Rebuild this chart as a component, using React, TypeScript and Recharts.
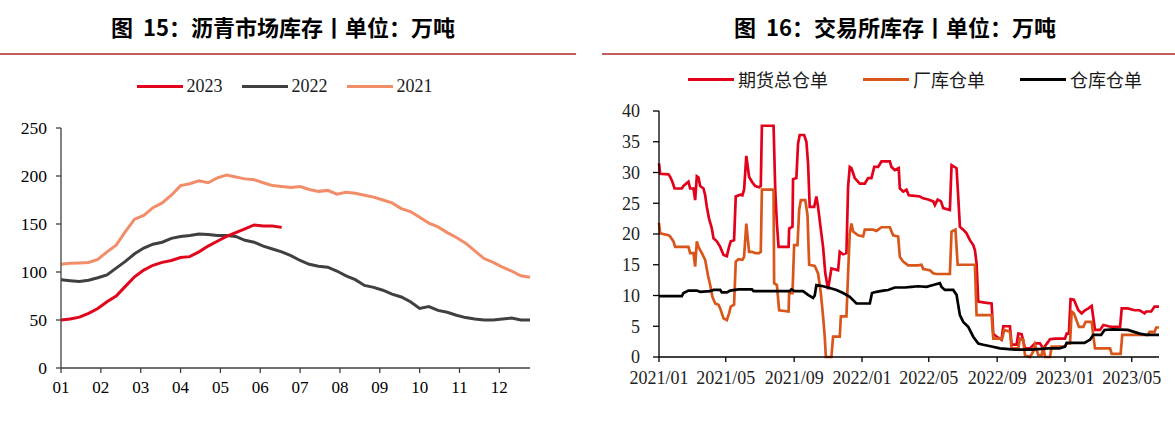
import React from "react";
import { LineChart, Line, XAxis, YAxis } from "recharts";

// ---- 图15 沥青市场库存 (weekly, 万吨) ----
const months = ["01", "02", "03", "04", "05", "06", "07", "08", "09", "10", "11", "12"];
const marketTicks = [0, 50, 100, 150, 200, 250];

const inv2023 = [50, 51, 53, 57, 62, 69, 75, 85, 95, 102, 107, 110, 112, 115, 116, 121, 127, 132, 137, 141, 145, 149, 148, 148, 146.5];
const inv2022 = [92, 91, 90, 91.5, 94, 97, 104, 111, 119, 125, 129, 131, 135, 137, 138, 139.5, 139, 138, 138, 137, 133, 131, 127, 124, 121, 117, 112, 108, 106, 105, 101, 96, 92, 86, 84, 81, 77, 74, 69, 62, 64, 60, 58, 55, 52.5, 51, 50, 50, 51, 52, 50, 50];
const inv2021 = [108, 109, 109.5, 110, 113, 121, 128, 142, 155, 159, 167, 172, 180, 190, 192, 195, 193, 198, 201, 199, 197, 196, 193, 190, 189, 188, 189, 186, 184, 185, 181, 183, 182, 180, 178, 175, 172, 166, 163, 157, 151, 147, 141, 136, 130, 122, 114, 110, 105, 101, 96, 94.5];

const marketSeries = [
  { key: "y2021", name: "2021", color: "#F28D69", values: inv2021 },
  { key: "y2022", name: "2022", color: "#404040", values: inv2022 },
  { key: "y2023", name: "2023", color: "#E0061C", values: inv2023 },
];

// ---- 图16 交易所库存 (万吨) ----
const exchangeTickLabels = ["2021/01", "2021/05", "2021/09", "2022/01", "2022/05", "2022/09", "2023/01", "2023/05"];
const exchangeTicks = [0, 5, 10, 15, 20, 25, 30, 35, 40];
const exchangeStart = "2021-01-01";
const exchangeEnd = "2023-06-19";

const futuresTotal: [string, number][] = [
  ["2021-01-01", 31.5], ["2021-01-03", 29.8], ["2021-01-18", 29.7], ["2021-01-21", 29.3], ["2021-01-25", 28.5], ["2021-01-29", 27.4],
  ["2021-02-11", 27.4], ["2021-02-14", 27.8], ["2021-02-23", 28.5], ["2021-02-26", 27.4], ["2021-03-04", 27.4], ["2021-03-07", 25.5],
  ["2021-03-10", 29.4], ["2021-03-13", 29.2], ["2021-03-16", 27.8], ["2021-03-22", 27.4], ["2021-03-25", 26.3], ["2021-03-28", 24.4],
  ["2021-04-01", 22.5], ["2021-04-06", 20.9], ["2021-04-09", 19.3], ["2021-04-15", 18.8], ["2021-04-21", 17.9], ["2021-04-27", 16.6],
  ["2021-05-03", 16.4], ["2021-05-07", 17.9], ["2021-05-10", 18.8], ["2021-05-16", 19.0], ["2021-05-19", 26.1], ["2021-05-27", 26.4],
  ["2021-05-31", 26.3], ["2021-06-03", 27.2], ["2021-06-07", 32.7], ["2021-06-12", 29.3], ["2021-06-17", 28.5], ["2021-06-23", 27.8],
  ["2021-06-30", 27.6], ["2021-07-03", 27.8], ["2021-07-05", 37.6], ["2021-07-26", 37.6], ["2021-07-29", 27.2], ["2021-08-01", 21.7],
  ["2021-08-04", 17.9], ["2021-08-22", 17.9], ["2021-08-23", 20.9], ["2021-08-29", 21.2], ["2021-08-30", 28.9], ["2021-09-05", 29.1],
  ["2021-09-08", 34.7], ["2021-09-11", 36.1], ["2021-09-19", 36.1], ["2021-09-23", 35.0], ["2021-09-26", 31.5], ["2021-09-29", 24.4],
  ["2021-10-07", 24.4], ["2021-10-11", 26.1], ["2021-10-14", 24.4], ["2021-10-19", 20.7], ["2021-10-23", 17.9], ["2021-10-27", 13.6],
  ["2021-11-01", 11.0], ["2021-11-07", 14.4], ["2021-11-19", 14.1], ["2021-11-22", 17.1], ["2021-11-28", 16.7], ["2021-12-04", 16.9],
  ["2021-12-07", 27.7], ["2021-12-10", 30.9], ["2021-12-13", 30.7], ["2021-12-19", 29.1], ["2021-12-28", 28.2], ["2022-01-06", 28.2],
  ["2022-01-12", 29.1], ["2022-01-18", 29.1], ["2022-01-23", 30.9], ["2022-01-30", 30.9], ["2022-02-05", 31.8], ["2022-02-20", 31.8],
  ["2022-02-23", 30.9], ["2022-03-01", 30.4], ["2022-03-08", 30.7], ["2022-03-10", 27.4], ["2022-03-16", 26.9], ["2022-03-22", 27.2],
  ["2022-03-26", 26.3], ["2022-04-06", 26.2], ["2022-04-15", 26.1], ["2022-04-21", 25.8], ["2022-04-30", 25.6], ["2022-05-09", 25.3],
  ["2022-05-12", 24.7], ["2022-05-17", 25.6], ["2022-05-23", 25.3], ["2022-05-27", 24.2], ["2022-06-08", 23.9], ["2022-06-11", 31.2],
  ["2022-06-20", 30.7], ["2022-06-23", 26.1], ["2022-06-26", 21.2], ["2022-07-02", 20.7], ["2022-07-08", 20.1], ["2022-07-14", 19.0],
  ["2022-07-20", 18.2], ["2022-07-23", 17.4], ["2022-07-26", 15.2], ["2022-07-29", 9.0], ["2022-08-13", 8.8], ["2022-08-22", 8.7],
  ["2022-08-25", 3.8], ["2022-08-31", 3.3], ["2022-09-09", 2.8], ["2022-09-12", 5.0], ["2022-09-24", 5.0], ["2022-09-27", 2.0],
  ["2022-10-06", 2.0], ["2022-10-09", 3.8], ["2022-10-15", 3.7], ["2022-10-21", 1.4], ["2022-10-30", 1.4], ["2022-11-08", 2.2],
  ["2022-11-17", 2.2], ["2022-11-23", 1.4], ["2022-12-02", 2.5], ["2022-12-05", 2.9], ["2022-12-14", 3.0], ["2023-01-01", 3.0],
  ["2023-01-04", 3.8], ["2023-01-08", 3.8], ["2023-01-11", 9.4], ["2023-01-17", 9.3], ["2023-01-25", 7.6], ["2023-01-31", 7.1],
  ["2023-02-06", 7.6], ["2023-02-12", 7.9], ["2023-02-18", 8.3], ["2023-02-21", 6.3], ["2023-02-24", 4.4], ["2023-03-05", 4.4],
  ["2023-03-11", 5.2], ["2023-03-20", 5.0], ["2023-03-26", 4.9], ["2023-04-10", 4.9], ["2023-04-13", 7.9], ["2023-04-24", 7.9],
  ["2023-05-06", 7.6], ["2023-05-15", 7.6], ["2023-05-24", 7.1], ["2023-05-27", 7.4], ["2023-06-05", 7.4], ["2023-06-11", 8.2],
  ["2023-06-19", 8.2],
];

const factoryReceipts: [string, number][] = [
  ["2021-01-01", 21.8], ["2021-01-03", 20.1], ["2021-01-18", 19.8], ["2021-01-21", 19.6], ["2021-01-27", 18.8], ["2021-01-30", 17.9],
  ["2021-02-23", 17.9], ["2021-02-26", 16.9], ["2021-03-04", 16.9], ["2021-03-07", 14.7], ["2021-03-10", 18.8], ["2021-03-13", 17.9],
  ["2021-03-19", 16.9], ["2021-03-25", 15.8], ["2021-03-30", 13.3], ["2021-04-03", 11.7], ["2021-04-07", 9.8], ["2021-04-12", 8.7],
  ["2021-04-18", 8.5], ["2021-04-21", 7.9], ["2021-04-27", 6.3], ["2021-05-03", 6.0], ["2021-05-07", 7.1], ["2021-05-10", 8.2],
  ["2021-05-16", 8.5], ["2021-05-19", 15.5], ["2021-05-24", 15.9], ["2021-05-31", 15.8], ["2021-06-03", 16.3], ["2021-06-07", 21.7],
  ["2021-06-12", 17.1], ["2021-06-17", 17.1], ["2021-06-23", 16.9], ["2021-06-30", 16.9], ["2021-07-03", 17.1], ["2021-07-05", 27.2],
  ["2021-07-26", 27.2], ["2021-07-27", 12.0], ["2021-08-01", 11.7], ["2021-08-05", 7.6], ["2021-08-22", 7.4], ["2021-08-23", 10.4],
  ["2021-08-29", 10.4], ["2021-09-01", 18.2], ["2021-09-07", 18.2], ["2021-09-10", 23.9], ["2021-09-13", 25.5], ["2021-09-21", 25.5],
  ["2021-09-25", 23.1], ["2021-09-28", 15.0], ["2021-10-08", 14.8], ["2021-10-14", 13.6], ["2021-10-19", 10.4], ["2021-10-23", 6.6],
  ["2021-10-26", 3.3], ["2021-10-28", 0], ["2021-11-07", 0], ["2021-11-10", 3.3], ["2021-11-22", 3.3], ["2021-11-24", 6.6],
  ["2021-12-04", 6.6], ["2021-12-07", 13.6], ["2021-12-10", 20.1], ["2021-12-13", 21.7], ["2021-12-16", 20.4], ["2021-12-25", 19.8],
  ["2022-01-03", 19.6], ["2022-01-06", 20.7], ["2022-01-21", 20.7], ["2022-01-27", 20.5], ["2022-02-05", 21.1], ["2022-02-20", 21.1],
  ["2022-02-26", 19.8], ["2022-03-07", 19.6], ["2022-03-10", 16.3], ["2022-03-16", 15.5], ["2022-03-25", 14.9], ["2022-04-12", 14.9],
  ["2022-04-18", 15.0], ["2022-04-21", 14.3], ["2022-05-03", 14.1], ["2022-05-09", 13.6], ["2022-05-15", 13.5], ["2022-06-08", 13.5],
  ["2022-06-11", 20.4], ["2022-06-18", 20.7], ["2022-06-22", 15.0], ["2022-07-23", 15.0], ["2022-07-26", 6.8], ["2022-08-22", 6.8],
  ["2022-08-25", 3.0], ["2022-09-10", 3.0], ["2022-09-14", 4.4], ["2022-09-24", 4.1], ["2022-09-27", 1.4], ["2022-10-09", 1.4],
  ["2022-10-12", 3.0], ["2022-10-18", 2.8], ["2022-10-21", 0.3], ["2022-10-30", 0], ["2022-11-05", 0.9], ["2022-11-08", 2.0],
  ["2022-11-14", 0.3], ["2022-11-20", 0.3], ["2022-11-23", 1.7], ["2022-11-26", 0], ["2022-12-05", 0], ["2022-12-08", 1.7],
  ["2023-01-01", 1.7], ["2023-01-04", 2.2], ["2023-01-10", 2.2], ["2023-01-13", 7.4], ["2023-01-17", 7.1], ["2023-01-26", 4.9],
  ["2023-02-03", 4.9], ["2023-02-07", 5.7], ["2023-02-18", 5.7], ["2023-02-21", 3.3], ["2023-02-24", 1.4], ["2023-03-23", 1.4],
  ["2023-03-26", 0.5], ["2023-04-11", 0.5], ["2023-04-14", 3.6], ["2023-05-30", 3.6], ["2023-06-02", 4.1], ["2023-06-11", 4.1],
  ["2023-06-14", 4.8], ["2023-06-19", 4.8],
];

const warehouseReceipts: [string, number][] = [
  ["2021-01-01", 9.9], ["2021-02-11", 9.9], ["2021-02-14", 10.4], ["2021-02-23", 10.8], ["2021-03-10", 10.8], ["2021-03-16", 10.6],
  ["2021-04-03", 10.7], ["2021-04-09", 10.9], ["2021-04-21", 10.9], ["2021-04-24", 10.5], ["2021-05-03", 10.5], ["2021-05-09", 10.8],
  ["2021-05-24", 11.0], ["2021-06-17", 11.0], ["2021-06-20", 10.7], ["2021-08-24", 10.7], ["2021-08-27", 11.0], ["2021-09-02", 10.7],
  ["2021-09-17", 10.7], ["2021-09-26", 10.1], ["2021-10-05", 9.6], ["2021-10-08", 10.0], ["2021-10-11", 11.7], ["2021-10-23", 11.5],
  ["2021-11-01", 11.3], ["2021-11-16", 10.9], ["2021-11-28", 10.4], ["2021-12-10", 9.8], ["2021-12-22", 8.7], ["2022-01-15", 8.7],
  ["2022-01-19", 10.4], ["2022-01-27", 10.6], ["2022-02-08", 10.8], ["2022-02-17", 10.9], ["2022-03-01", 11.3], ["2022-03-19", 11.3],
  ["2022-03-31", 11.4], ["2022-04-12", 11.5], ["2022-04-27", 11.4], ["2022-05-09", 11.7], ["2022-05-21", 12.0], ["2022-05-24", 11.4],
  ["2022-05-30", 10.9], ["2022-06-14", 10.9], ["2022-06-20", 10.1], ["2022-06-26", 6.8], ["2022-07-02", 5.7], ["2022-07-11", 4.9],
  ["2022-07-20", 3.3], ["2022-07-29", 2.2], ["2022-08-07", 2.0], ["2022-08-22", 1.7], ["2022-09-06", 1.4], ["2022-10-03", 1.2],
  ["2022-11-02", 1.2], ["2022-12-02", 1.4], ["2022-12-22", 1.4], ["2023-01-01", 1.7], ["2023-01-04", 2.3], ["2023-02-05", 2.3],
  ["2023-02-15", 2.8], ["2023-02-21", 3.6], ["2023-03-07", 3.6], ["2023-03-13", 4.4], ["2023-03-28", 4.5], ["2023-04-24", 4.4],
  ["2023-05-15", 3.8], ["2023-05-27", 3.6], ["2023-06-19", 3.6],
];

const exchangeSeries = [
  { key: "total", name: "期货总仓单", color: "#E3001B", points: futuresTotal },
  { key: "factory", name: "厂库仓单", color: "#D9561A", points: factoryReceipts },
  { key: "warehouse", name: "仓库仓单", color: "#000000", points: warehouseReceipts },
];

// ---- helpers ----
const toTs = (s: string) => {
  const [y, m, d] = s.split(/[-/]/).map(Number);
  return Date.UTC(y, m - 1, d || 1);
};

const weekTicks = months.map((_, i) => (i * 52) / 12);

const marketData = inv2021.map((_, i) => {
  const row: Record<string, number | null> = { week: i };
  marketSeries.forEach((s) => {
    row[s.key] = i < s.values.length ? s.values[i] : null;
  });
  return row;
});

const exchangeData = (() => {
  const map = new Map<number, Record<string, number>>();
  exchangeSeries.forEach((s) => {
    s.points.forEach(([d, v]) => {
      const t = toTs(d);
      const row = map.get(t) || { t };
      row[s.key] = v;
      map.set(t, row);
    });
  });
  return Array.from(map.values()).sort((a, b) => a.t - b.t);
})();

const dateTicks = exchangeTickLabels.map(toTs);
const fmtDate = (v: number) => {
  const d = new Date(v);
  return `${d.getUTCFullYear()}/${String(d.getUTCMonth() + 1).padStart(2, "0")}`;
};

const serif = "'Liberation Serif', 'Times New Roman', serif";
const cjk = "'Noto Sans CJK SC', 'Noto Sans', sans-serif";

const titleStyle: React.CSSProperties = {
  position: "absolute",
  top: 11,
  textAlign: "center",
  fontFamily: cjk,
  fontWeight: 700,
  fontSize: 22,
  lineHeight: "30px",
  color: "#000",
  whiteSpace: "pre",
};

const ruleStyle: React.CSSProperties = {
  position: "absolute",
  top: 52.5,
  height: 2.5,
  background: "#BF5F5A",
};

function LegendRow({
  items,
  left,
  width,
  top,
  font,
  gap,
}: {
  items: { name: string; color: string }[];
  left: number;
  width: number;
  top: number;
  font: string;
  gap: number;
}) {
  return (
    <div
      style={{
        position: "absolute",
        left,
        width,
        top,
        height: 24,
        display: "flex",
        justifyContent: "center",
        alignItems: "center",
        gap,
      }}
    >
      {items.map((it) => (
        <div key={it.name} style={{ display: "flex", alignItems: "center" }}>
          <div style={{ width: 46, height: 3, background: it.color, marginRight: 4 }} />
          <span style={{ font, color: "#1a1a1a", lineHeight: "24px" }}>{it.name}</span>
        </div>
      ))}
    </div>
  );
}

export default function App() {
  return (
    <div
      style={{
        position: "absolute",
        left: 0,
        top: 0,
        width: 1175,
        height: 432,
        background: "#fff",
        overflow: "hidden",
      }}
    >
      <div style={{ ...titleStyle, left: 0, width: 566 }}>图  15：沥青市场库存丨单位：万吨</div>
      <div style={{ ...titleStyle, left: 602, width: 586 }}>图  16：交易所库存丨单位：万吨</div>
      <div style={{ ...ruleStyle, left: 0, width: 576 }} />
      <div style={{ ...ruleStyle, left: 602, width: 573 }} />

      <LegendRow
        items={[...marketSeries].reverse()}
        left={0}
        width={569}
        top={74}
        font={`18px ${serif}`}
        gap={19}
      />
      <LegendRow
        items={exchangeSeries}
        left={602}
        width={626}
        top={67}
        font={`18px ${cjk}`}
        gap={35}
      />

      <div style={{ position: "absolute", left: 0, top: 100 }}>
        <LineChart width={560} height={300} data={marketData} margin={{ top: 28, right: 30, bottom: 2, left: 0 }}>
          <XAxis
            dataKey="week"
            type="number"
            domain={[0, 51]}
            ticks={weekTicks}
            interval={0}
            tickFormatter={(v: number) => months[Math.round((v * 12) / 52)]}
            tick={{ fill: "#000", fontSize: 17, fontFamily: serif }}
            tickSize={5}
            tickMargin={8}
            height={30}
            axisLine={{ stroke: "#404040", strokeWidth: 1.3 }}
            tickLine={{ stroke: "#404040", strokeWidth: 1.3 }}
          />
          <YAxis
            type="number"
            domain={[0, 250]}
            ticks={marketTicks}
            interval={0}
            width={61}
            tick={{ fill: "#000", fontSize: 17.5, fontFamily: serif }}
            tickSize={5}
            tickMargin={9}
            axisLine={{ stroke: "#404040", strokeWidth: 1.3 }}
            tickLine={{ stroke: "#404040", strokeWidth: 1.3 }}
          />
          {marketSeries.map((s) => (
            <Line
              key={s.key}
              type="linear"
              dataKey={s.key}
              stroke={s.color}
              strokeWidth={3}
              dot={false}
              activeDot={false}
              connectNulls={false}
              isAnimationActive={false}
            />
          ))}
        </LineChart>
      </div>

      <div style={{ position: "absolute", left: 600, top: 95 }}>
        <LineChart width={575} height={300} data={exchangeData} margin={{ top: 16, right: 16, bottom: 2, left: 0 }}>
          <XAxis
            dataKey="t"
            type="number"
            scale="time"
            domain={[toTs(exchangeStart), toTs(exchangeEnd)]}
            ticks={dateTicks}
            interval={0}
            tickFormatter={fmtDate}
            tick={{ fill: "#222", fontSize: 18, fontFamily: serif }}
            tickSize={5}
            tickMargin={9}
            height={36}
            axisLine={{ stroke: "#000", strokeWidth: 1.3 }}
            tickLine={{ stroke: "#000", strokeWidth: 1.3 }}
          />
          <YAxis
            type="number"
            domain={[0, 40]}
            ticks={exchangeTicks}
            interval={0}
            width={59}
            tick={{ fill: "#222", fontSize: 18, fontFamily: serif }}
            tickSize={6}
            tickMargin={13}
            axisLine={{ stroke: "#000", strokeWidth: 1.3 }}
            tickLine={{ stroke: "#000", strokeWidth: 1.3 }}
          />
          {exchangeSeries.map((s) => (
            <Line
              key={s.key}
              type="linear"
              dataKey={s.key}
              stroke={s.color}
              strokeWidth={2.7}
              dot={false}
              activeDot={false}
              connectNulls
              isAnimationActive={false}
            />
          ))}
        </LineChart>
      </div>
    </div>
  );
}
